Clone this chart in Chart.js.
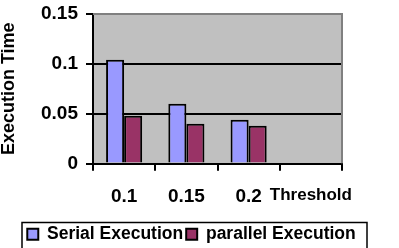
<!DOCTYPE html>
<html>
<head>
<meta charset="utf-8">
<script src="https://cdn.jsdelivr.net/npm/chart.js@4/dist/chart.umd.min.js"></script>
<style>
  html, body { margin: 0; padding: 0; background: #fff; }
  #wrap { width: 399px; height: 248px; }
</style>
</head>
<body>
<div id="wrap"><canvas id="chart"></canvas></div>
<script>
// data
var categories = ['0.1', '0.15', '0.2', ''];
var xTitle = 'Threshold';
var yTitle = 'Execution Time';
var serialValues = [0.104, 0.060, 0.044, null];
var parallelValues = [0.048, 0.040, 0.038, null];
var seriesNames = ['Serial Execution', 'parallel Execution'];

var FONT = "'Liberation Sans', Arial, sans-serif";

// grey plot area, grey frame top/right, category tick marks, box round the legend
var frame = {
    id: 'frame',
    beforeDraw: function (chart) {
        var a = chart.chartArea, ctx = chart.ctx;
        ctx.save();
        ctx.fillStyle = '#c0c0c0';
        ctx.fillRect(a.left, a.top, a.right - a.left, a.bottom - a.top);
        ctx.restore();
    },
    afterLayout: function (chart) {
        var l = chart.legend;
        l.left = 19;
        l.right = 364;
        l.width = 345;
    },
    afterDraw: function (chart) {
        var a = chart.chartArea, ctx = chart.ctx;
        ctx.save();
        ctx.strokeStyle = '#808080';
        ctx.lineWidth = 2;
        ctx.beginPath();
        ctx.moveTo(a.left, a.top);
        ctx.lineTo(a.right, a.top);
        ctx.lineTo(a.right, a.bottom);
        ctx.stroke();

        var xs = chart.scales.x, n = categories.length;
        ctx.strokeStyle = '#000';
        ctx.beginPath();
        for (var i = 0; i <= n; i++) {
            var x = Math.round(xs.left + i * xs.width / n);
            ctx.moveTo(x, a.bottom);
            ctx.lineTo(x, a.bottom + 7);
        }
        ctx.stroke();

        var l = chart.legend;
        ctx.lineWidth = 1.5;
        ctx.strokeRect(l.left + 3, l.top, l.right - l.left, 40);
        ctx.restore();
    }
};

new Chart(document.getElementById('chart'), {
    type: 'bar',
    data: {
        labels: categories,
        datasets: [
            {
                label: seriesNames[0],
                data: serialValues,
                backgroundColor: '#9999ff',
                borderColor: '#000',
                borderWidth: 2
            },
            {
                label: seriesNames[1],
                data: parallelValues,
                backgroundColor: '#993366',
                borderColor: '#000',
                borderWidth: 2
            }
        ]
    },
    options: {
        responsive: true,
        maintainAspectRatio: false,
        animation: false,
        layout: { padding: { top: 14, right: 57, left: 0, bottom: -5 } },
        datasets: { bar: { categoryPercentage: 0.58, barPercentage: 1 } },
        plugins: {
            tooltip: { enabled: false },
            legend: {
                position: 'bottom',
                labels: {
                    boxWidth: 11,
                    boxHeight: 11,
                    padding: 3,
                    color: '#000',
                    font: { family: FONT, size: 17.5, weight: 'bold' }
                }
            }
        },
        scales: {
            x: {
                afterFit: function (s) { s.height = 59; },
                border: { color: '#000', width: 2 },
                grid: { offset: true, drawOnChartArea: false, drawTicks: true, tickLength: 7, tickColor: '#000', lineWidth: 2 },
                ticks: {
                    padding: 15,
                    autoSkip: false,
                    maxRotation: 0,
                    minRotation: 0,
                    color: '#000',
                    font: function (c) {
                        return { family: FONT, size: c.index === 3 ? 17 : 19, weight: 'bold' };
                    },
                    callback: function (v, i) { return categories[i] || xTitle; }
                }
            },
            y: {
                min: 0,
                max: 0.15,
                afterFit: function (s) {
                    s.width = 93;
                    s.paddingTop = 0;
                    s.paddingBottom = 0;
                },
                border: { color: '#000', width: 2 },
                grid: {
                    color: function (c) { return c.tick && c.tick.value >= 0.15 ? '#808080' : '#000'; },
                    tickColor: '#000',
                    lineWidth: 2,
                    tickLength: 7
                },
                ticks: {
                    stepSize: 0.05,
                    padding: 8,
                    color: '#000',
                    font: { family: FONT, size: 19, weight: 'bold' },
                    callback: function (v) { return String(Math.round(v * 100) / 100); }
                },
                title: {
                    display: true,
                    text: yTitle,
                    color: '#000',
                    padding: 0,
                    font: { family: FONT, size: 18, weight: 'bold', lineHeight: 1 }
                }
            }
        }
    },
    plugins: [frame]
});
</script>
</body>
</html>
